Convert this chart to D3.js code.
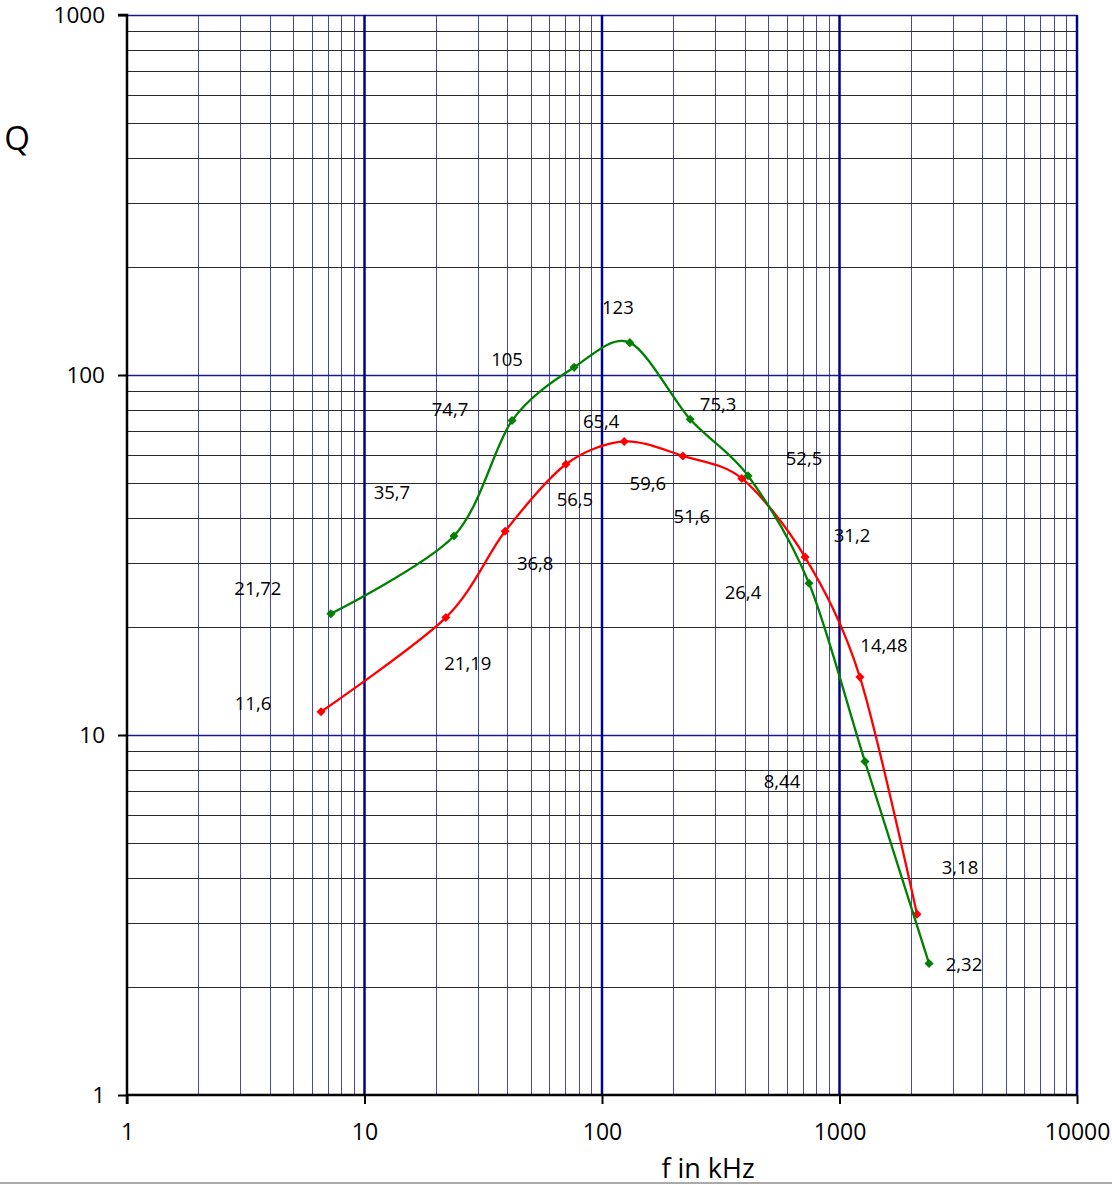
<!DOCTYPE html>
<html>
<head>
<meta charset="utf-8">
<script src="https://cdn.jsdelivr.net/npm/d3@7"></script>
<style>
  html, body { margin: 0; padding: 0; background: #fff; }
  svg { display: block; }
  text { font-family: "Open Sans", "Liberation Sans", sans-serif; fill: #000; }
</style>
</head>
<body>
<svg id="chart" width="1112" height="1185"></svg>
<script>
// ---- Data ----
const greenF = [7.22, 23.8, 41.8, 76.3, 131, 235, 412, 744, 1280, 2382];
const greenQ = [21.72, 35.7, 74.7, 105, 123, 75.3, 52.5, 26.4, 8.44, 2.32];
const greenLabels = ["21,72", "35,7", "74,7", "105", "123", "75,3", "52,5", "26,4", "8,44", "2,32"];

const redF = [6.56, 22.0, 39.1, 70.5, 124, 219, 388, 716, 1219, 2120];
const redQ = [11.6, 21.19, 36.8, 56.5, 65.4, 59.6, 51.6, 31.2, 14.48, 3.18];
const redLabels = ["11,6", "21,19", "36,8", "56,5", "65,4", "59,6", "51,6", "31,2", "14,48", "3,18"];

const xTicks = [1, 10, 100, 1000, 10000];
const xTickLabels = ["1", "10", "100", "1000", "10000"];
const yTicks = [1, 10, 100, 1000];
const yTickLabels = ["1", "10", "100", "1000"];

// label placement offsets (pixels, styling only)
const greenLabelDx = [-73, -62, -62, -67, -12, 28, 56, -66, -83, 35];
const greenLabelDy = [-26, -45, -12, -9, -36, -16, -18, 8, 19, 0];
const redLabelDx = [-68, 22, 30, 9, -23, -35, -50, 47, 24, 43];
const redLabelDy = [-9, 45, 31, 34, -21, 27, 37, -23, -33, -48];

// ---- Layout ----
const svg = d3.select("#chart");
const pLeft = 127, pRight = 1077, pTop = 15, pBottom = 1095;

const x = d3.scaleLog().domain([1, 10000]).range([pLeft, pRight]);
const y = d3.scaleLog().domain([1, 1000]).range([pBottom, pTop]);

// minor values
const minorX = [];
for (let d = 1; d < 10000; d *= 10) for (let k = 2; k <= 9; k++) minorX.push(d * k);
const minorY = [];
for (let d = 1; d < 1000; d *= 10) for (let k = 2; k <= 9; k++) minorY.push(d * k);

const grid = svg.append("g");
// horizontal minor
grid.selectAll(".hmin").data(minorY).join("line").attr("class", "hmin")
  .attr("x1", pLeft).attr("x2", pRight)
  .attr("y1", d => Math.round(y(d)) + 0.5).attr("y2", d => Math.round(y(d)) + 0.5)
  .attr("stroke", "#2a2a2a").attr("stroke-width", 1);
// horizontal decades
grid.selectAll(".hmaj").data(yTicks.slice(1)).join("line").attr("class", "hmaj")
  .attr("x1", pLeft).attr("x2", pRight)
  .attr("y1", d => Math.round(y(d)) + 0.5).attr("y2", d => Math.round(y(d)) + 0.5)
  .attr("stroke", "#1a1a90").attr("stroke-width", 1.3);
// vertical minor
grid.selectAll(".vmin").data(minorX).join("line").attr("class", "vmin")
  .attr("y1", pTop).attr("y2", pBottom)
  .attr("x1", d => Math.round(x(d)) + 0.5).attr("x2", d => Math.round(x(d)) + 0.5)
  .attr("stroke", "#1c1c98").attr("stroke-width", 1).attr("stroke-opacity", 0.8);
// vertical decades
grid.selectAll(".vmaj").data(xTicks.slice(1)).join("line").attr("class", "vmaj")
  .attr("y1", pTop).attr("y2", pBottom)
  .attr("x1", d => x(d)).attr("x2", d => x(d))
  .attr("stroke", "#000088").attr("stroke-width", 2.5);

// ---- Axes ----
const yAxis = d3.axisLeft(y).tickValues(yTicks).tickFormat((d, i) => yTickLabels[i])
  .tickSize(9).tickPadding(13);
const gy = svg.append("g").attr("transform", `translate(${pLeft},0)`).call(yAxis);
gy.select(".domain").attr("stroke", "#000").attr("stroke-width", 2.5)
  .attr("d", `M-9,${pTop}H0V${pBottom + 9}`);
gy.selectAll(".tick line").attr("stroke", "#000").attr("stroke-width", 2);
gy.selectAll(".tick text").style("font-size", "22.5px").style("font-family", '"Open Sans", sans-serif').attr("fill", "#000");

const xAxis = d3.axisBottom(x).tickValues(xTicks).tickFormat((d, i) => xTickLabels[i])
  .tickSize(9).tickPadding(20);
const gx = svg.append("g").attr("transform", `translate(0,${pBottom})`).call(xAxis);
gx.select(".domain").attr("stroke", "#000").attr("stroke-width", 2.5)
  .attr("d", `M${pLeft},0H${pRight}`);
gx.selectAll(".tick line").attr("stroke", "#000").attr("stroke-width", 2);
gx.selectAll(".tick text").style("font-size", "23px").style("font-family", '"Open Sans", sans-serif').attr("fill", "#000");

// axis titles
svg.append("text").attr("x", 17).attr("y", 137).attr("text-anchor", "middle")
  .attr("dominant-baseline", "central").style("font-size", "33px").text("Q");
svg.append("text").attr("x", 708).attr("y", 1178).attr("text-anchor", "middle")
  .style("font-size", "27px").text("f in kHz");

// bottom border line
svg.append("line").attr("x1", 0).attr("x2", 1112).attr("y1", 1183).attr("y2", 1183)
  .attr("stroke", "#aaaaaa").attr("stroke-width", 2);

// ---- Series ----
const line = d3.line().x(d => x(d[0])).y(d => y(d[1])).curve(d3.curveCardinal.tension(0.1));
const diamond = d3.symbol().type(d3.symbolDiamond2).size(52);

function drawSeries(fs, qs, labels, dxs, dys, color) {
  const pts = fs.map((f, i) => [f, qs[i]]);
  const g = svg.append("g");
  g.append("path").datum(pts).attr("d", line)
    .attr("fill", "none").attr("stroke", color).attr("stroke-width", 2.3);
  g.selectAll("path.m").data(pts).join("path").attr("class", "m")
    .attr("d", diamond)
    .attr("transform", d => `translate(${x(d[0])},${y(d[1])})`)
    .attr("fill", color);
  g.selectAll("text").data(pts).join("text")
    .attr("x", (d, i) => x(d[0]) + dxs[i])
    .attr("y", (d, i) => y(d[1]) + dys[i])
    .attr("text-anchor", "middle").attr("dominant-baseline", "central")
    .style("font-size", "18.5px")
    .text((d, i) => labels[i]);
}

drawSeries(redF, redQ, redLabels, redLabelDx, redLabelDy, "#ff0000");
drawSeries(greenF, greenQ, greenLabels, greenLabelDx, greenLabelDy, "#008000");
</script>
</body>
</html>
